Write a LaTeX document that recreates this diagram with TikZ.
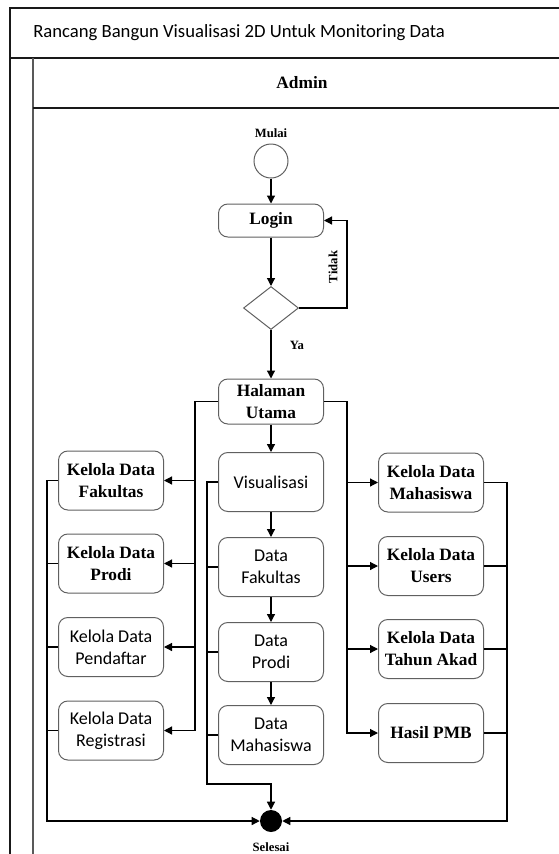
\documentclass[tikz,border=0pt]{standalone}
\usepackage{fontspec}
\setmainfont{Liberation Serif}
\newfontfamily\calibri{Carlito}
\usetikzlibrary{arrows.meta,shapes.geometric}

\tikzset{
	box/.style={draw=gray!75!black, line width=0.75pt, rounded corners=7pt, minimum width=78.75pt, minimum height=44.25pt, align=center, inner sep=1pt},
	serifbox/.style={box, font=\bfseries\fontsize{13}{16.5}\selectfont},
	sansbox/.style={box, font=\calibri\fontsize{13.5}{16.5}\selectfont},
	flow/.style={-{Triangle[length=6pt,width=6pt]}, line width=0.9pt},
	link/.style={line width=0.9pt},
	tiny/.style={font=\bfseries\fontsize{9.5}{10}\selectfont, inner sep=1pt},
	frame/.style={line width=1.2pt, gray!20!black}
}

\begin{document}
\begin{tikzpicture}[x=0.75pt, y=-0.75pt]
		\useasboundingbox (0,0) rectangle (558,854);
		
		% Swimlane
		\draw[frame] (10,854) -- (10,8) -- (570,8);
		\draw[frame] (10,58) -- (570,58);
		\draw[frame, gray!70!black, line width=1.5pt] (33,58) -- (33,854);
		\draw[frame] (33,108) -- (570,108);
		\node[font=\calibri\fontsize{14}{16}\selectfont, anchor=west, inner sep=0] (title) at (33,33) {Rancang Bangun Visualisasi 2D Untuk Monitoring Data};
		\node[font=\bfseries\fontsize{13}{15}\selectfont] (lane) at (302,83) {Admin};
		
		% Start, login, check
		\node[tiny] (mulai) at (271,133) {Mulai};
		\node[circle, draw=gray!75!black, line width=0.75pt, minimum size=25.5pt, inner sep=0] (start) at (271,161) {};
		\node[serifbox, minimum height=24.75pt] (login) at (271,220.5) {Login};
		\node[diamond, draw=gray!75!black, line width=0.75pt, minimum width=41.25pt, minimum height=32.25pt, inner sep=0] (cek) at (271,308) {};
		\node[serifbox, minimum height=33.75pt] (utama) at (271,401.5) {Halaman\\Utama};
		
		% Left column
		\node[serifbox] (kfak) at (111,480.5) {Kelola Data\\Fakultas};
		\node[serifbox] (kpro) at (111,563.5) {Kelola Data\\Prodi};
		\node[sansbox] (kpen) at (111,647) {Kelola Data\\Pendaftar};
		\node[sansbox] (kreg) at (111,730.5) {Kelola Data\\Registrasi};
		
		% Middle column
		\node[sansbox] (vis) at (271,482) {Visualisasi};
		\node[sansbox] (dfak) at (271,567) {Data\\Fakultas};
		\node[sansbox] (dpro) at (271,652) {Data\\Prodi};
		\node[sansbox] (dmhs) at (271,735) {Data\\Mahasiswa};
		
		% Right column
		\node[serifbox] (kmhs) at (431,482.5) {Kelola Data\\Mahasiswa};
		\node[serifbox] (kusr) at (431,566) {Kelola Data\\Users};
		\node[serifbox] (ktah) at (431,649) {Kelola Data\\Tahun Akad};
		\node[serifbox] (hpmb) at (431,733) {Hasil PMB};
		
		% End
		\node[circle, fill=black, minimum size=16.5pt, inner sep=0] (end) at (271,821) {};
		\node[tiny] (selesai) at (271,847) {Selesai};
		
		\coordinate (loop) at (347,308);
		\coordinate (lbus) at (195,0);
		\coordinate (rbus) at (347,0);
		\coordinate (mbus) at (207,784);
		\coordinate (lout) at (47,821);
		\coordinate (rout) at (507,821);
		
		% Login flow
		\draw[flow] (start) -- (login);
		\draw[flow] (login) -- (cek);
		\draw[flow] (cek.east) -- (loop) |- (login.east);
		\node[tiny, rotate=90] (tidak) at (333,267) {Tidak};
		\draw[flow] (cek) -- (utama);
		\node[tiny] (ya) at (297,345) {Ya};
		
		% Menu
		\draw[flow] (utama.west) -| (lbus |- kreg.east) -- (kreg.east);
		\foreach \n in {kfak,kpro,kpen}
			\draw[flow] (lbus |- \n.east) -- (\n.east);
		\draw[flow] (utama.east) -| (rbus |- hpmb.west) -- (hpmb.west);
		\foreach \n in {kmhs,kusr,ktah}
			\draw[flow] (rbus |- \n.west) -- (\n.west);
		\draw[flow] (utama) -- (vis);
		\draw[flow] (vis) -- (dfak);
		\draw[flow] (dfak) -- (dpro);
		\draw[flow] (dpro) -- (dmhs);
		
		% To end
		\draw[flow] (vis.west) -| (mbus) -| (end.north);
		\foreach \n in {dfak,dpro,dmhs}
			\draw[link] (\n.west) -- (mbus |- \n.west);
		\draw[flow] (kfak.west) -| (lout) -- (end.west);
		\foreach \n in {kpro,kpen,kreg}
			\draw[link] (\n.west) -- (lout |- \n.west);
		\draw[flow] (kmhs.east) -| (rout) -- (end.east);
		\foreach \n in {kusr,ktah,hpmb}
			\draw[link] (\n.east) -- (rout |- \n.east);
	\end{tikzpicture}
\end{document}
